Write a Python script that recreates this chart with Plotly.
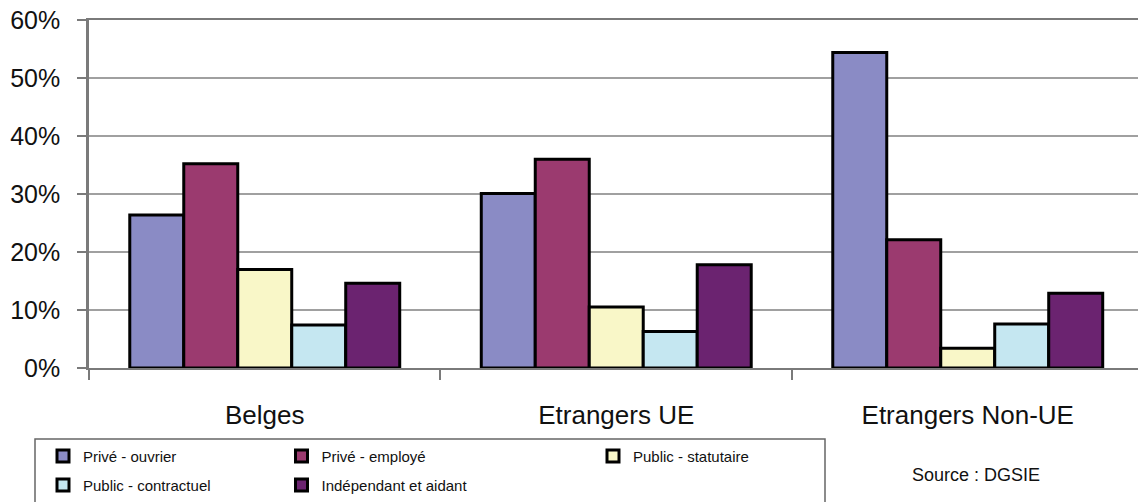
import plotly.graph_objects as go

# Employment status by nationality group (share of workers, %)
categories = ["Belges", "Etrangers UE", "Etrangers Non-UE"]
series_names = [
    "Privé - ouvrier",
    "Privé - employé",
    "Public - statutaire",
    "Public - contractuel",
    "Indépendant et aidant",
]
prive_ouvrier = [26.4, 30.1, 54.4]
prive_employe = [35.2, 36.0, 22.1]
public_statutaire = [17.0, 10.5, 3.4]
public_contractuel = [7.4, 6.3, 7.6]
independant_aidant = [14.6, 17.8, 12.9]
y_tick_values = [0, 10, 20, 30, 40, 50, 60]
y_tick_labels = ["0%", "10%", "20%", "30%", "40%", "50%", "60%"]
source_note = "Source : DGSIE"

series_values = [prive_ouvrier, prive_employe, public_statutaire,
                 public_contractuel, independant_aidant]
colors = ["#8a8bc5", "#9b3a6f", "#f9f7c8", "#c5e7f1", "#6b2370"]

W, H = 1138, 502
FONT = "Liberation Sans, Arial, sans-serif"
AXIS_GREY = "#7a7a7a"

# one small legend per entry so the two-row layout can be placed freely
# (column swatch centres / row centres in pixels)
legend_ids = ["legend", "legend2", "legend3", "legend4", "legend5"]
legend_pos = [(66, 456), (304.5, 456), (616, 456), (66, 485), (304.5, 485)]

fig = go.Figure()
for name, vals, col, lid in zip(series_names, series_values, colors, legend_ids):
    fig.add_trace(go.Bar(
        x=categories, y=vals, name=name, legend=lid,
        marker=dict(color=col, line=dict(color="#000000", width=3)),
        hovertemplate="%{x}<br>" + name + " : %{y:.1f}%<extra></extra>",
    ))

legend_layouts = {}
for lid, (sx, cy) in zip(legend_ids, legend_pos):
    left = sx - 23
    top = cy - 16.25
    legend_layouts[lid] = dict(
        x=left / W, xref="container", xanchor="left",
        y=1 - top / H, yref="container", yanchor="top",
        font=dict(family=FONT, size=15, color="#111111"),
        bgcolor="rgba(0,0,0,0)", borderwidth=0,
    )

# plot area in pixels: x 89..1138, y 20..368
L, T, B = 89, 20, 134
pw, ph = W - L, H - T - B


def px_x(px):
    return (px - L) / pw


def px_y(py):
    return (H - B - py) / ph


fig.update_layout(
    width=W, height=H,
    margin=dict(l=L, r=0, t=T, b=B, pad=0, autoexpand=False),
    paper_bgcolor="white", plot_bgcolor="white",
    showlegend=True,
    barmode="group", bargap=0.232, bargroupgap=0,
    font=dict(family=FONT, color="#111111"),
    xaxis=dict(
        type="category", range=[-0.5, 2.4844],
        showline=True, linecolor=AXIS_GREY, linewidth=2, mirror=True,
        ticks="outside", tickson="boundaries", ticklen=10,
        tickcolor=AXIS_GREY, tickwidth=1.5, tickangle=0,
        tickfont=dict(family=FONT, size=26, color="#111111"),
        ticklabelstandoff=23, showgrid=False, fixedrange=True,
    ),
    yaxis=dict(
        range=[0, 60], tickvals=y_tick_values, ticktext=y_tick_labels,
        showline=True, linecolor=AXIS_GREY, linewidth=2.5,
        ticks="outside", ticklen=9, tickcolor=AXIS_GREY, tickwidth=1.5,
        showgrid=True, gridcolor="#a0a0a0", gridwidth=1.5, zeroline=False,
        tickfont=dict(family=FONT, size=25, color="#111111"),
        ticklabelstandoff=12, fixedrange=True,
    ),
    shapes=[dict(
        type="rect", xref="paper", yref="paper",
        x0=px_x(35), x1=px_x(825), y0=px_y(439), y1=px_y(530),
        line=dict(color="#666666", width=1.5), fillcolor="rgba(0,0,0,0)",
        layer="above",
    )],
    annotations=[dict(
        text=source_note, xref="paper", yref="paper",
        x=px_x(976), y=px_y(475), xanchor="center", yanchor="middle",
        showarrow=False, font=dict(family=FONT, size=18, color="#111111"),
    )],
    **legend_layouts,
)

fig.write_html("out.html")
